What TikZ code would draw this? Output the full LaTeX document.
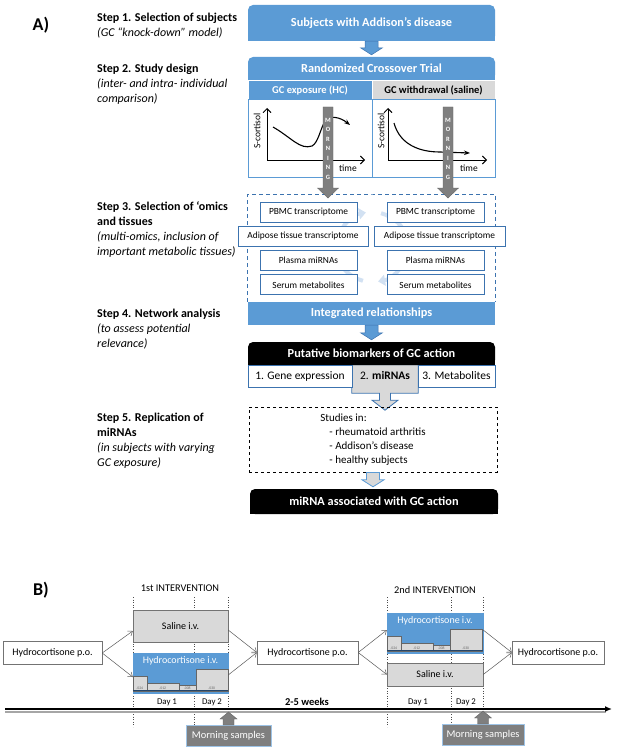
\documentclass[tikz,border=0pt]{standalone}
\usepackage{fontspec}
\setmainfont{Carlito}
\usetikzlibrary{calc, arrows.meta, positioning, backgrounds}

\definecolor{boxblue}{RGB}{91,155,213}
\definecolor{lineblue}{RGB}{60,115,175}
\definecolor{lightgrey}{RGB}{217,217,217}
\definecolor{midgrey}{RGB}{127,127,127}
\definecolor{faintblue}{RGB}{210,225,242}
\definecolor{skyblue}{RGB}{157,195,230}

\tikzset{
  letterlabel/.style={font=\bfseries\fontsize{18}{20}\selectfont, inner sep=0pt},
  steptext/.style={anchor=north west, inner sep=0pt, align=left, font=\fontsize{12}{15}\selectfont},
  headbox/.style={fill=boxblue, text=white, rounded corners=5pt, minimum width=247pt,
    inner sep=0pt, font=\bfseries\fontsize{12.3}{14}\selectfont},
  blackbox/.style={headbox, fill=black},
  subhead/.style={minimum height=20pt, inner sep=0pt, font=\bfseries\fontsize{10.5}{12}\selectfont},
  plotpanel/.style={draw=boxblue, line width=1pt, fill=white, minimum height=77pt, inner sep=0pt},
  plotaxis/.style={line width=0.9pt, {Straight Barb[length=4pt,width=8pt]}-{Straight Barb[length=4pt,width=8pt]}},
  cortcurve/.style={line width=1.1pt},
  plotlabel/.style={inner sep=0pt, font=\fontsize{9.5}{11}\selectfont},
  morningbar/.style={fill=midgrey, draw=midgrey!80!black, line width=0.4pt},
  morningletter/.style={text=white, font=\bfseries\fontsize{6.5}{7}\selectfont, inner sep=0pt},
  omicsframe/.style={lineblue, dashed, dash pattern=on 4pt off 3pt, line width=0.9pt},
  cyclearrow/.style={faintblue, line width=4pt, -{Triangle[length=7pt,width=11pt]}},
  omicsbox/.style={draw=lineblue, line width=0.8pt, fill=white, minimum height=20pt,
    inner sep=0pt, font=\fontsize{9.4}{11}\selectfont},
  resultbox/.style={draw=lineblue, line width=0.8pt, fill=white, minimum height=22pt,
    inner sep=0pt, font=\fontsize{11.5}{13}\selectfont},
  callout/.style={fill=lightgrey, draw=lineblue, line width=0.8pt},
  studiesbox/.style={draw, dashed, line width=0.9pt, minimum width=248pt, minimum height=65pt,
    inner sep=0pt, align=left, font=\fontsize{11}{14}\selectfont},
  bluearrow/.style={fill=boxblue, draw=lineblue, line width=0.5pt},
  greyarrow/.style={fill=lightgrey, draw=boxblue, line width=0.8pt},
  % part B
  titletext/.style={inner sep=0pt, font=\fontsize{10.3}{12}\selectfont},
  pobox/.style={draw=black!55, fill=white, minimum height=23pt, inner sep=0pt, font=\fontsize{10}{12}\selectfont},
  salinebox/.style={draw=black!55, fill=lightgrey, inner sep=0pt, font=\fontsize{10}{12}\selectfont},
  hcbox/.style={fill=boxblue, draw=boxblue, inner sep=0pt, minimum height=40pt},
  hctext/.style={text=white, inner sep=0pt, font=\fontsize{10}{12}\selectfont},
  dosebar/.style={fill=lightgrey, draw=black!60, line width=0.5pt},
  doselabel/.style={inner sep=0pt, text=black!60, font=\fontsize{3.8}{4}\selectfont},
  flowarrow/.style={draw=black!65, line width=0.5pt, -{Straight Barb[length=4pt,width=6pt]}},
  dayline/.style={black!70, dotted, line width=0.6pt},
  daytext/.style={inner sep=0pt, font=\fontsize{8.8}{10}\selectfont},
  morningbox/.style={fill=midgrey, draw=skyblue, line width=1pt, text=white, inner sep=0pt,
    minimum height=21pt, font=\fontsize{10.4}{12}\selectfont},
}

% block arrow between two stacked nodes
\newcommand{\blockarrow}[3][bluearrow]{%
  \path[#1] let \p1 = (#2.south), \p2 = (#3.north) in
    (\x1-6.5pt,\y1) -- (\x1+6.5pt,\y1) -- (\x1+6.5pt,\y2+9pt) -- (\x1+11pt,\y2+9pt)
    -- (\x1,\y2+2pt) -- (\x1-11pt,\y2+9pt) -- (\x1-6.5pt,\y2+9pt) -- cycle;}

% small arrow from a box up to the time line
\newcommand{\samplearrow}[1]{%
  \path[morningbar] let \p1 = (#1.north) in
    (\x1-5.5pt,\y1) -- (\x1-5.5pt,\y1+6pt) -- (\x1-8.5pt,\y1+6pt) -- (\x1,\y1+13pt)
    -- (\x1+8.5pt,\y1+6pt) -- (\x1+5.5pt,\y1+6pt) -- (\x1+5.5pt,\y1) -- cycle;}

\begin{document}
\begin{tikzpicture}[x=1pt, y=-1pt, >=Latex]
\useasboundingbox (0,0) rectangle (617,749);

%% A) left column
\node[letterlabel] (labA) at (41,25) {A)};

\node[steptext] (step1) at (97,13) {\textbf{Step 1. Selection of subjects}\\\textit{(GC “knock-down” model)}};
\node[steptext] (step2) at (97,64) {\textbf{Step 2. Study design}\\\textit{(inter- and intra- individual}\\\textit{comparison)}};
\node[steptext] (step3) at (97,201) {\textbf{Step 3. Selection of ‘omics}\\\textbf{and tissues}\\\textit{(multi-omics, inclusion of}\\\textit{important metabolic tissues)}};
\node[steptext] (step4) at (97,309) {\textbf{Step 4. Network analysis}\\\textit{(to assess potential}\\\textit{relevance)}};
\node[steptext] (step5) at (97,413) {\textbf{Step 5. Replication of}\\\textbf{miRNAs}\\\textit{(in subjects with varying}\\\textit{GC exposure)}};

%% A) flow
\node[headbox, minimum height=36pt] (subj) at (371.5,23) {Subjects with Addison’s disease};
\node[headbox, minimum height=23pt] (rct) at (371.5,68.5) {Randomized Crossover Trial};
\blockarrow{subj}{rct}

\node[subhead, fill=boxblue, text=white, draw=white, line width=0.6pt, minimum width=124pt] (gcexp) at (310,90) {GC exposure (HC)};
\node[subhead, fill=lightgrey, draw=white, line width=0.6pt, minimum width=123pt] (gcwd) at (433.5,90) {GC withdrawal (saline)};

\node[plotpanel, minimum width=124pt] (panelL) at (310,138.5) {};
\node[plotpanel, minimum width=123pt] (panelR) at (433.5,138.5) {};

% cortisol curves
\draw[plotaxis] (267,108) |- (365,160);
\draw[cortcurve, -{Stealth[length=6pt]}] (273,127) .. controls (292,138) and (300,150) .. (312,146)
  .. controls (318,143) and (320,130) .. (325,121) .. controls (330,115) and (340,117) .. (350,125);
\node[plotlabel, rotate=90] (ylabL) at (257,131) {S-cortisol};
\node[plotlabel] (tlabL) at (348,168) {time};

\draw[plotaxis] (388,108) |- (487,160);
\draw[cortcurve, -{Stealth[length=6pt]}] (394,123) .. controls (400,145) and (420,152) .. (440,152) -- (470,153);
\node[plotlabel, rotate=90] (ylabR) at (381,131) {S-cortisol};
\node[plotlabel] (tlabR) at (469,168) {time};

% omics
\node[headbox, sharp corners, minimum height=23pt] (integ) at (371.5,313.5) {Integrated relationships};
\coordinate (omtop) at (371.5,194);
\draw[omicsframe] (integ.north west) |- (omtop) -| (integ.north east);

\coordinate (cyc) at (372,247);
\draw[cyclearrow] ($(cyc)+(165:35pt)$) arc[start angle=165, end angle=100, radius=35pt];
\draw[cyclearrow] ($(cyc)+(75:35pt)$) arc[start angle=75, end angle=10, radius=35pt];
\draw[cyclearrow] ($(cyc)+(-15:35pt)$) arc[start angle=-15, end angle=-80, radius=35pt];
\draw[cyclearrow] ($(cyc)+(-105:35pt)$) arc[start angle=-105, end angle=-170, radius=35pt];

\node[omicsbox, minimum width=97pt] (pbmcL) at (308.5,212) {PBMC transcriptome};
\node[omicsbox, minimum width=130pt] (adipL) at (303,236) {Adipose tissue transcriptome};
\node[omicsbox, minimum width=97pt] (plasL) at (308.5,260) {Plasma miRNAs};
\node[omicsbox, minimum width=97pt, below=4pt of plasL] (serL) {Serum metabolites};

\node[omicsbox, minimum width=97pt] (pbmcR) at (435.5,212) {PBMC transcriptome};
\node[omicsbox, minimum width=131pt] (adipR) at (439.5,236) {Adipose tissue transcriptome};
\node[omicsbox, minimum width=97pt] (plasR) at (435.5,260) {Plasma miRNAs};
\node[omicsbox, minimum width=97pt, below=4pt of plasR] (serR) {Serum metabolites};

% morning arrows
\foreach \mx in {328,448} {
  \path[morningbar] (\mx-5,107) -- (\mx+5,107) -- (\mx+5,188) -- (\mx+10.5,188)
    -- (\mx,198) -- (\mx-10.5,188) -- (\mx-5,188) -- cycle;
  \foreach \l [count=\i] in {M,O,R,N,I,N,G}
    \node[morningletter] (m\mx\i) at (\mx,110.5+9.5*\i) {\l};
}

% biomarkers
\node[blackbox, minimum height=23pt] (putative) at (371.5,353.5) {Putative biomarkers of GC action};
\blockarrow{integ}{putative}
\node[resultbox, minimum width=104pt] (gene) at (300,376) {1. Gene expression};
\node[inner sep=0pt, minimum width=66pt, minimum height=22pt, font=\fontsize{11.5}{13}\selectfont] (mirna) at (385,376) {2. \textbf{miRNAs}};
\node[resultbox, minimum width=77pt] (metab) at (456.5,376) {3. Metabolites};

\node[studiesbox] (studies) at (373,439.5) {Studies in:\\\hspace*{9pt}- rheumatoid arthritis\\\hspace*{9pt}- Addison’s disease\\\hspace*{9pt}- healthy subjects};
\node[blackbox, minimum width=248pt, minimum height=25pt] (final) at (374,501.5) {miRNA associated with GC action};
\blockarrow[greyarrow]{studies}{final}

\begin{scope}[on background layer]
  \foreach \n/\c in {subj/boxblue, rct/boxblue, putative/black, final/black}
    \fill[\c] (\n.west) rectangle (\n.south east);
  \path[callout] (mirna.north west) -- (mirna.north east) -- ($(mirna.south east)+(0,6)$)
    -- ($(mirna.south)+(5.5,6)$) -- ($(mirna.south)+(5.5,13)$) -- ($(mirna.south)+(13,13)$)
    -- ($(mirna.south)+(0,23)$) -- ($(mirna.south)+(-13,13)$) -- ($(mirna.south)+(-5.5,13)$)
    -- ($(mirna.south)+(-5.5,6)$) -- ($(mirna.south west)+(0,6)$) -- cycle;
\end{scope}

%% B) intervention plan
\node[letterlabel] (labB) at (41,590) {B)};
\node[titletext] (int1) at (180,588) {1st INTERVENTION};
\node[titletext] (int2) at (435,590) {2nd INTERVENTION};

\foreach \dx in {133,194,228,387,451,483}
  \draw[dayline] (\dx,597) -- (\dx,727);

\node[pobox, minimum width=99pt] (poL) at (52.5,653) {Hydrocortisone p.o.};
\node[salinebox, minimum width=95pt, minimum height=32pt] (sal1) at (180.5,626) {Saline i.v.};
\node[hcbox, minimum width=95pt] (hc1) at (180.5,673) {};
\node[hctext, below=4pt of hc1.north] (hc1t) {Hydrocortisone i.v.};

\node[pobox, minimum width=101pt] (poM) at (307.5,652.5) {Hydrocortisone p.o.};
\node[hcbox, minimum width=96pt] (hc2) at (435,633) {};
\node[hctext, below=4pt of hc2.north] (hc2t) {Hydrocortisone i.v.};
\node[salinebox, minimum width=96pt, minimum height=23pt] (sal2) at (435,674.5) {Saline i.v.};
\node[pobox, minimum width=92pt] (poR) at (558,652.5) {Hydrocortisone p.o.};

% dose steps
\foreach \hc in {hc1,hc2} {
  \foreach \a/\b/\h/\t in {0/14/23/.024, 14/46/30/.012, 46/63/32/.008, 63/95/16/.030} {
    \draw[dosebar] ($(\hc.north west)+(\a,\h)$) rectangle ($(\hc.north west)+(\b,38)$);
    \node[doselabel] (\hc d\a) at ($(\hc.north west)+({(\a+\b)/2},35.5)$) {\t};
  }
  \draw[lineblue!60!black, line width=0.8pt] ($(\hc.north west)+(0,38)$) -- ($(\hc.north east)+(0,38)$);
}

\draw[flowarrow] (poL.east) -- ($(sal1.west)+(0,5)$);
\draw[flowarrow] (poL.east) -- ($(hc1.west)+(0,4)$);
\draw[flowarrow] ($(sal1.east)+(0,4)$) -- (poM.west);
\draw[flowarrow] ($(hc1.east)+(0,2)$) -- (poM.west);
\draw[flowarrow] (poM.east) -- ($(hc2.west)+(0,-3)$);
\draw[flowarrow] (poM.east) -- (sal2.west);
\draw[flowarrow] ($(hc2.east)+(0,-3)$) -- (poR.west);
\draw[flowarrow] (sal2.east) -- (poR.west);

% time line
\coordinate (tlstart) at (5,709);
\coordinate (tlend) at (612,709);
\draw[black!35, line width=2pt] ($(tlstart)+(0,2.5)$) -- ($(tlend)+(-6,2.5)$);
\draw[line width=1.6pt, -{Latex[length=7pt,width=6pt]}] (tlstart) -- (tlend);

\node[daytext] (d11) at (167,702) {Day 1};
\node[daytext] (d12) at (212,702) {Day 2};
\node[daytext] (d21) at (418,702) {Day 1};
\node[daytext] (d22) at (466,702) {Day 2};
\node[inner sep=0pt, font=\bfseries\fontsize{10.5}{12}\selectfont] (weeks) at (307,702) {2-5 weeks};

\node[morningbox, minimum width=85pt] (mornL) at (228.5,736) {Morning samples};
\node[morningbox, minimum width=82pt] (mornR) at (483,735) {Morning samples};
\samplearrow{mornL}
\samplearrow{mornR}

\end{tikzpicture}
\end{document}
